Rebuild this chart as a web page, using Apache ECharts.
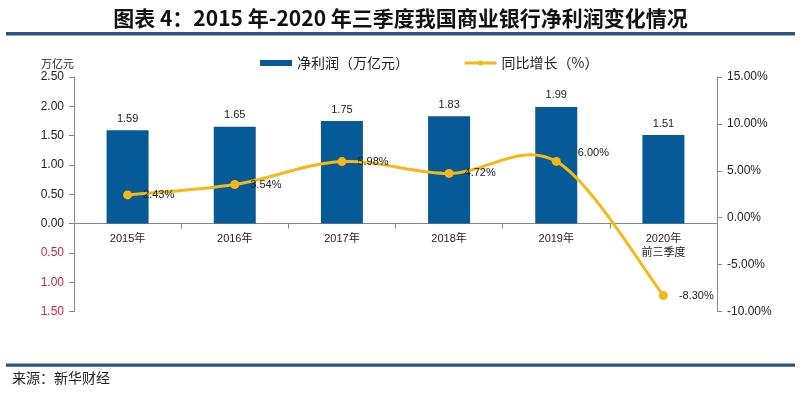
<!DOCTYPE html>
<html><head><meta charset="utf-8">
<script src="https://cdn.jsdelivr.net/npm/echarts@6/dist/echarts.min.js"></script>
<style>html,body{margin:0;padding:0;background:#fff}#c{width:801px;height:401px}</style>
</head><body><div id="c"></div>
<script>
const categories = ['2015年','2016年','2017年','2018年','2019年','2020年\n前三季度'];
const profit = [1.59, 1.65, 1.75, 1.83, 1.99, 1.51];
const growth = [2.43, 3.54, 5.98, 4.72, 6.00, -8.30];
const leftTicks = {min: -1.5, max: 2.5, interval: 0.5};
const rightTicks = {min: -10, max: 15, interval: 5};

const font = '"Liberation Sans", Arial, "Noto Sans CJK SC", sans-serif';
const cjk = '"Noto Sans CJK SC", sans-serif';
const gridTop = 77, gridBottom = 89.5, H = 401;
const plotH = H - gridTop - gridBottom;
const zeroOffset = -plotH * (0 - leftTicks.min) / (leftTicks.max - leftTicks.min);
const lineColor = '#f5b814';
const barColor = '#065a98';

function renderCurve(params, api) {
  if (params.dataIndex !== 0) return null;
  const pts = growth.map((v, i) => api.coord([i, v]));
  const n = pts.length;
  let d = 'M' + pts[0][0] + ' ' + pts[0][1];
  for (let i = 0; i < n - 1; i++) {
    const p0 = pts[Math.max(i - 1, 0)], p1 = pts[i], p2 = pts[i + 1], p3 = pts[Math.min(i + 2, n - 1)];
    const c1 = [p1[0] + (p2[0] - p0[0]) / 6, p1[1] + (p2[1] - p0[1]) / 6];
    const c2 = [p2[0] - (p3[0] - p1[0]) / 6, p2[1] - (p3[1] - p1[1]) / 6];
    d += ' C' + c1[0] + ' ' + c1[1] + ' ' + c2[0] + ' ' + c2[1] + ' ' + p2[0] + ' ' + p2[1];
  }
  return {
    type: 'path',
    shape: {pathData: d},
    style: {fill: 'none', stroke: lineColor, lineWidth: 3}
  };
}

const chart = echarts.init(document.getElementById('c'));
chart.setOption({
  backgroundColor: '#fff',
  animation: false,
  textStyle: {fontFamily: font},
  title: {
    text: '图表 4：2015 年-2020 年三季度我国商业银行净利润变化情况',
    left: 'center', top: 3,
    textStyle: {fontSize: 21, fontWeight: 'bold', color: '#111', fontFamily: cjk}
  },
  graphic: [
    {type: 'rect', shape: {x: 6, y: 32, width: 789, height: 3.5}, style: {fill: '#2b5580'}},
    {type: 'rect', shape: {x: 6, y: 363.5, width: 789, height: 3.2}, style: {fill: '#2b5580'}},
    {type: 'text', left: 12, top: 371, style: {text: '来源：新华财经', font: '14px "Noto Sans CJK SC"', fill: '#222'}}
  ],
  legend: {
    top: 51, left: 255,
    itemGap: 54,
    textStyle: {fontSize: 14, color: '#222', fontFamily: cjk},
    data: [
      {name: '净利润（万亿元）', icon: 'rect', itemStyle: {color: barColor}},
      {name: '同比增长（%）', lineStyle: {color: lineColor, width: 3, opacity: 1}, itemStyle: {color: lineColor}}
    ],
    itemWidth: 32, itemHeight: 6
  },
  grid: {left: 74, right: 84, top: gridTop, bottom: gridBottom},
  xAxis: {
    type: 'category', data: categories,
    offset: zeroOffset,
    axisLine: {onZero: false, lineStyle: {color: '#888'}},
    axisTick: {show: true, length: 5, lineStyle: {color: '#888'}},
    axisLabel: {color: '#222', fontSize: 11, margin: 8, lineHeight: 14, fontFamily: font}
  },
  yAxis: [
    {
      type: 'value', min: leftTicks.min, max: leftTicks.max, interval: leftTicks.interval,
      name: '万亿元', nameLocation: 'end', nameGap: 8,
      nameTextStyle: {color: '#222', fontSize: 11, align: 'right', fontFamily: cjk},
      splitLine: {show: false},
      axisLine: {show: true, lineStyle: {color: '#888'}},
      axisTick: {show: true, length: 5, lineStyle: {color: '#888'}},
      axisLabel: {
        fontSize: 12, margin: 10,
        formatter: v => v < 0 ? '{neg|' + Math.abs(v).toFixed(2) + '}' : v.toFixed(2),
        color: '#222',
        rich: {neg: {color: '#e0203c', fontSize: 12}}
      }
    },
    {
      type: 'value', min: rightTicks.min, max: rightTicks.max, interval: rightTicks.interval,
      position: 'right',
      splitLine: {show: false},
      axisLine: {show: true, lineStyle: {color: '#888'}},
      axisTick: {show: true, length: 5, lineStyle: {color: '#888'}},
      axisLabel: {fontSize: 12, margin: 10, color: '#222', formatter: v => v.toFixed(2) + '%'}
    }
  ],
  series: [
    {
      name: '净利润（万亿元）', type: 'bar', data: profit, yAxisIndex: 0,
      barWidth: 42,
      itemStyle: {color: barColor},
      label: {show: true, position: 'top', fontSize: 11, color: '#222', distance: 6, formatter: p => p.value.toFixed(2)}
    },
    {
      name: 'curve', type: 'custom', coordinateSystem: 'cartesian2d', yAxisIndex: 1,
      data: growth.map((v, i) => [i, v]),
      renderItem: renderCurve, z: 3, silent: true
    },
    {
      name: '同比增长（%）', type: 'line', yAxisIndex: 1,
      data: growth.map((v, i) => i === 4 ? {value: v, label: {offset: [6, -8]}} : v),
      z: 4,
      symbol: 'circle', symbolSize: 9,
      lineStyle: {color: lineColor, width: 3, opacity: 0},
      itemStyle: {color: lineColor},
      label: {show: true, position: 'right', distance: 11, fontSize: 11, color: '#222', formatter: p => p.value.toFixed(2) + '%'}
    }
  ]
});
</script></body></html>
